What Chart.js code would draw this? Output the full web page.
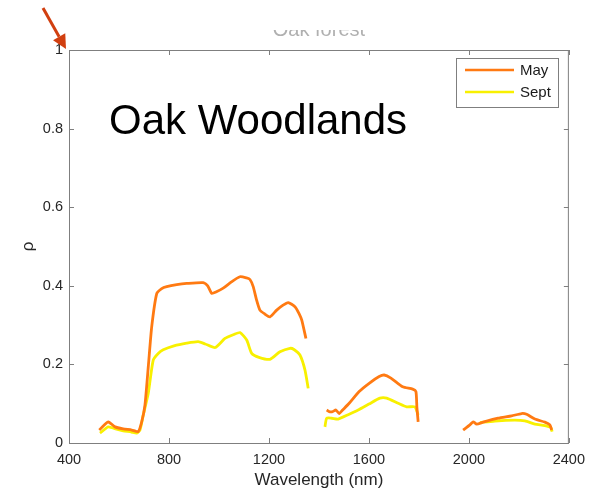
<!DOCTYPE html>
<html>
<head>
<meta charset="utf-8">
<script src="https://cdn.jsdelivr.net/npm/chart.js@4.4.0/dist/chart.umd.min.js"></script>
<style>
  body { margin: 0; background: #fff; }
  #wrap { width: 593px; height: 492px; }
</style>
</head>
<body>
<div id="wrap"><canvas id="oakChart" width="593" height="492"></canvas></div>
<script>
// tick labels
const xTicks = [400, 800, 1200, 1600, 2000, 2400];
const yTicks = [0, 0.2, 0.4, 0.6, 0.8, 1];

// May spectrum (null = water absorption gap)
const mayNm = [521, 540, 557, 584, 617, 651, 677, 691, 704, 718, 731, 751, 771, 791, 831, 871, 937, 955, 971, 990,
  1017, 1050, 1084, 1110, 1124, 1137, 1150, 1164, 1184, 1204, 1231, 1255, 1277, 1304, 1320, 1331, 1348,
  1390,
  1431, 1441, 1455, 1468, 1481, 1495, 1521, 1561, 1601, 1641, 1661, 1688, 1735, 1775, 1788, 1792, 1797,
  1890,
  1977, 2004, 2017, 2031, 2057, 2117, 2171, 2211, 2231, 2264, 2304, 2324, 2331];
const mayRefl = [0.033, 0.045, 0.054, 0.041, 0.036, 0.033, 0.029, 0.054, 0.097, 0.200, 0.296, 0.380, 0.393, 0.398, 0.403, 0.406, 0.408, 0.400, 0.381, 0.385,
  0.394, 0.410, 0.423, 0.420, 0.416, 0.398, 0.365, 0.338, 0.328, 0.321, 0.338, 0.350, 0.357, 0.347, 0.330, 0.313, 0.266,
  null,
  0.084, 0.080, 0.080, 0.084, 0.075, 0.084, 0.101, 0.131, 0.152, 0.169, 0.173, 0.165, 0.143, 0.137, 0.131, 0.090, 0.054,
  null,
  0.033, 0.046, 0.054, 0.048, 0.053, 0.063, 0.069, 0.075, 0.073, 0.061, 0.053, 0.046, 0.033];

// Sept spectrum
const septNm = [524, 557, 590, 617, 650, 671, 684, 697, 717, 737, 757, 777, 820, 871, 917, 945, 985, 1024, 1060, 1084,
  1111, 1131, 1160, 1204, 1244, 1284, 1300, 1324, 1344, 1357,
  1390,
  1424, 1431, 1451, 1477, 1517, 1557, 1600, 1644, 1671, 1717, 1751, 1784, 1797,
  1920,
  2044, 2104, 2184, 2224, 2264, 2304, 2328, 2333];
const septRefl = [0.025, 0.041, 0.035, 0.031, 0.028, 0.025, 0.033, 0.071, 0.126, 0.211, 0.228, 0.237, 0.247, 0.254, 0.258, 0.252, 0.243, 0.266, 0.276, 0.281,
  0.262, 0.228, 0.218, 0.213, 0.232, 0.241, 0.238, 0.224, 0.186, 0.139,
  null,
  0.041, 0.063, 0.063, 0.061, 0.072, 0.084, 0.099, 0.114, 0.114, 0.101, 0.092, 0.092, 0.071,
  null,
  0.052, 0.056, 0.058, 0.056, 0.048, 0.044, 0.039, 0.029];

const FONT = '"Liberation Sans", Arial, Helvetica, sans-serif';
Chart.defaults.font.family = FONT;

function toPoints(xs, ys) {
  return xs.map((x, i) => ({ x: x, y: ys[i] }));
}

// box, inward ticks, legend, overlay text, arrow
const decorPlugin = {
  id: 'decor',
  afterDraw(chart) {
    const ctx = chart.ctx;
    const a = chart.chartArea;
    const xs = chart.scales.x, ys = chart.scales.y;
    ctx.save();

    // axes box
    ctx.strokeStyle = '#7f7f7f';
    ctx.lineWidth = 1;
    ctx.strokeRect(a.left + 0.5, a.top + 0.5, a.right - a.left - 1, a.bottom - a.top);
    ctx.beginPath();
    xTicks.forEach(v => {
      const px = Math.round(xs.getPixelForValue(v)) + 0.5;
      ctx.moveTo(px, a.bottom); ctx.lineTo(px, a.bottom - 5);
      ctx.moveTo(px, a.top); ctx.lineTo(px, a.top + 5);
    });
    yTicks.forEach(v => {
      const py = Math.round(ys.getPixelForValue(v)) + 0.5;
      ctx.moveTo(a.left, py); ctx.lineTo(a.left + 5, py);
      ctx.moveTo(a.right, py); ctx.lineTo(a.right - 5, py);
    });
    ctx.stroke();

    // legend
    const lx = 456, ly = 58, lw = 102, lh = 49;
    ctx.fillStyle = '#fff';
    ctx.fillRect(lx, ly, lw, lh);
    ctx.strokeStyle = '#7f7f7f';
    ctx.strokeRect(lx + 0.5, ly + 0.5, lw, lh);
    ctx.font = '15px ' + FONT;
    ctx.textBaseline = 'middle';
    ctx.textAlign = 'left';
    chart.data.datasets.forEach((ds, i) => {
      const yy = ly + 12 + i * 22;
      ctx.strokeStyle = ds.borderColor;
      ctx.lineWidth = 2.5;
      ctx.beginPath();
      ctx.moveTo(lx + 9, yy); ctx.lineTo(lx + 58, yy);
      ctx.stroke();
      ctx.fillStyle = '#1a1a1a';
      ctx.fillText(ds.label, lx + 64, yy + 1);
    });

    // big overlay label
    ctx.fillStyle = '#000';
    ctx.font = '42px ' + FONT;
    ctx.textBaseline = 'alphabetic';
    ctx.fillText('Oak Woodlands', xs.getPixelForValue(560), ys.getPixelForValue(0.787));

    // title, mostly hidden
    ctx.save();
    ctx.beginPath();
    ctx.rect(0, 30, chart.width, 10);
    ctx.clip();
    ctx.fillStyle = '#b0b0b0';
    ctx.font = '20px ' + FONT;
    ctx.textAlign = 'center';
    ctx.textBaseline = 'alphabetic';
    ctx.fillText('Oak forest', (a.left + a.right) / 2, 36);
    ctx.restore();

    // red arrow pointing at y = 1
    const tx = xs.getPixelForValue(400) - 3, ty = ys.getPixelForValue(1) - 1;
    const sx = 43, sy = 8;
    const dx = tx - sx, dy = ty - sy, len = Math.hypot(dx, dy);
    const ux = dx / len, uy = dy / len;
    const hl = 14, hw = 7;
    ctx.strokeStyle = '#d13f10';
    ctx.fillStyle = '#d13f10';
    ctx.lineWidth = 3;
    ctx.beginPath();
    ctx.moveTo(sx, sy);
    ctx.lineTo(tx - ux * hl, ty - uy * hl);
    ctx.stroke();
    ctx.beginPath();
    ctx.moveTo(tx, ty);
    ctx.lineTo(tx - ux * hl - uy * hw, ty - uy * hl + ux * hw);
    ctx.lineTo(tx - ux * hl + uy * hw, ty - uy * hl - ux * hw);
    ctx.closePath();
    ctx.fill();

    ctx.restore();
  }
};

new Chart(document.getElementById('oakChart'), {
  type: 'line',
  data: {
    datasets: [
      {
        label: 'May',
        data: toPoints(mayNm, mayRefl),
        borderColor: '#ff7a12',
        borderWidth: 2.8,
        pointRadius: 0,
        tension: 0.2,
        spanGaps: false
      },
      {
        label: 'Sept',
        data: toPoints(septNm, septRefl),
        borderColor: '#f8f000',
        borderWidth: 2.8,
        pointRadius: 0,
        tension: 0.2,
        spanGaps: false
      }
    ]
  },
  options: {
    responsive: false,
    animation: false,
    devicePixelRatio: 1,
    layout: { padding: { left: 0, right: 24, top: 50, bottom: 0 } },
    plugins: {
      legend: { display: false },
      tooltip: { enabled: false }
    },
    scales: {
      x: {
        type: 'linear',
        min: 400,
        max: 2400,
        afterBuildTicks: s => { s.ticks = xTicks.map(v => ({ value: v })); },
        afterFit: s => { s.height = 49; },
        ticks: { color: '#262626', font: { size: 14.5 }, padding: 8, maxRotation: 0, autoSkip: false, callback: v => String(v) },
        grid: { display: false, drawTicks: false },
        border: { display: false },
        title: { display: true, text: 'Wavelength (nm)', color: '#262626', font: { size: 17 }, padding: { top: 0, bottom: 1 } }
      },
      y: {
        type: 'linear',
        min: 0,
        max: 1,
        afterBuildTicks: s => { s.ticks = yTicks.map(v => ({ value: v })); },
        afterFit: s => { s.width = 69; },
        ticks: { color: '#262626', font: { size: 14.5 }, padding: 6, autoSkip: false, callback: v => String(v) },
        grid: { display: false, drawTicks: false },
        border: { display: false },
        title: { display: true, text: 'ρ', color: '#262626', font: { size: 17 }, padding: { top: 18, bottom: 0 } }
      }
    }
  },
  plugins: [decorPlugin]
});
</script>
</body>
</html>
